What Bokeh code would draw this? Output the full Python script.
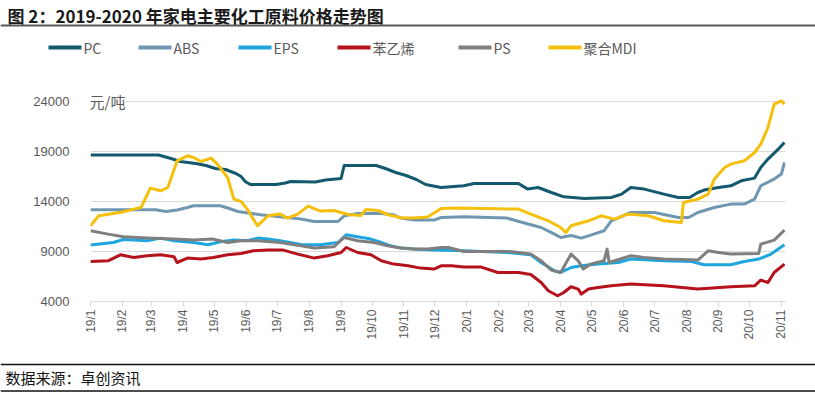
import math
import pandas as pd
from bokeh.plotting import figure
from bokeh.layouts import column
from bokeh.models import Range1d, FixedTicker, Label
from bokeh.core.properties import value
from bokeh.embed import file_html
from bokeh.resources import INLINE

TITLE = "图 2：2019-2020 年家电主要化工原料价格走势图"
SOURCE = "数据来源：卓创资讯"
UNIT = "元/吨"
SERIES_NAMES = ["PC", "ABS", "EPS", "苯乙烯", "PS", "聚合MDI"]
SERIES_COLORS = ["#135a6e", "#6f97b2", "#1ea6de", "#b5121b", "#7f7f7f", "#f5c00c"]
Y_TICKS = [4000, 9000, 14000, 19000, 24000]
START_DATE = "2019-01-01"
END_DATE = "2020-11-05"
MONTH_LABELS = ["19/1", "19/2", "19/3", "19/4", "19/5", "19/6", "19/7", "19/8", "19/9", "19/10",
                "19/11", "19/12", "20/1", "20/2", "20/3", "20/4", "20/5", "20/6", "20/7", "20/8",
                "20/9", "20/10", "20/11"]

PC_DATES = ["2019-01-01", "2019-03-08", "2019-03-20", "2019-03-29", "2019-04-13", "2019-04-23",
            "2019-05-02", "2019-05-12", "2019-05-22", "2019-05-27", "2019-05-31", "2019-06-05",
            "2019-06-30", "2019-07-09", "2019-07-14", "2019-08-07", "2019-08-17", "2019-09-01",
            "2019-09-04", "2019-10-05", "2019-10-14", "2019-10-24", "2019-11-03", "2019-11-13",
            "2019-11-22", "2019-12-07", "2019-12-29", "2020-01-08", "2020-02-20", "2020-02-29",
            "2020-03-10", "2020-03-23", "2020-04-04", "2020-04-24", "2020-05-20", "2020-05-30",
            "2020-06-08", "2020-06-21", "2020-07-10", "2020-07-24", "2020-08-04", "2020-08-12",
            "2020-08-18", "2020-09-01", "2020-09-13", "2020-09-23", "2020-10-06", "2020-10-12",
            "2020-10-19", "2020-10-29", "2020-11-04"]
PC_VALUES = [18650, 18650, 18300, 18000, 17800, 17600,
             17300, 17200, 16800, 16500, 16000, 15700,
             15700, 15850, 16000, 15950, 16150, 16300,
             17600, 17600, 17300, 16900, 16600, 16200,
             15700, 15400, 15570, 15800, 15800, 15240,
             15400, 14900, 14470, 14300, 14400, 14740,
             15400, 15240, 14740, 14400, 14400, 14900,
             15140, 15400, 15570, 16070, 16340, 17400,
             18240, 19240, 19900]

ABS_DATES = ["2019-01-01", "2019-03-05", "2019-03-15", "2019-03-26", "2019-04-05", "2019-04-11",
             "2019-05-07", "2019-05-14", "2019-05-24", "2019-06-15", "2019-07-04", "2019-07-24",
             "2019-08-06", "2019-08-29", "2019-09-04", "2019-09-17", "2019-10-10", "2019-10-22",
             "2019-10-29", "2019-11-11", "2019-11-30", "2019-12-07", "2019-12-29", "2020-02-09",
             "2020-02-24", "2020-03-13", "2020-03-26", "2020-04-01", "2020-04-11", "2020-04-21",
             "2020-05-03", "2020-05-13", "2020-05-20", "2020-06-08", "2020-07-01", "2020-07-24",
             "2020-08-03", "2020-08-12", "2020-08-28", "2020-09-13", "2020-09-26", "2020-10-06",
             "2020-10-12", "2020-10-25", "2020-11-01", "2020-11-04"]
ABS_VALUES = [13170, 13170, 13000, 13150, 13400, 13570,
              13570, 13350, 13000, 12670, 12470, 12240,
              12000, 12000, 12570, 12800, 12800, 12670,
              12340, 12140, 12140, 12400, 12470, 12340,
              11900, 11400, 10740, 10400, 10600, 10340,
              10740, 11070, 12070, 12900, 12900, 12400,
              12400, 12900, 13400, 13740, 13740, 14240,
              15570, 16240, 16740, 17900]

EPS_DATES = ["2019-01-01", "2019-01-23", "2019-02-02", "2019-02-25", "2019-03-10", "2019-03-23",
             "2019-04-11", "2019-04-25", "2019-05-07", "2019-05-20", "2019-06-02", "2019-06-12",
             "2019-06-22", "2019-07-04", "2019-07-24", "2019-08-12", "2019-08-29", "2019-09-06",
             "2019-09-17", "2019-09-30", "2019-10-10", "2019-10-19", "2019-10-29", "2019-11-11",
             "2019-11-30", "2019-12-29", "2020-02-09", "2020-03-03", "2020-03-13", "2020-03-26",
             "2020-04-01", "2020-04-11", "2020-04-21", "2020-05-07", "2020-05-27", "2020-06-08",
             "2020-07-10", "2020-08-06", "2020-08-18", "2020-09-13", "2020-09-26", "2020-10-10",
             "2020-10-22", "2020-11-04"]
EPS_VALUES = [9640, 9900, 10200, 10070, 10340, 10070,
              9900, 9670, 9970, 10140, 10070, 10340,
              10240, 10070, 9700, 9670, 9900, 10670,
              10470, 10240, 9900, 9570, 9340, 9240,
              9140, 9070, 8900, 8670, 7900, 7070,
              6900, 7400, 7570, 7740, 7900, 8240,
              8070, 8000, 7670, 7670, 8000, 8240,
              8740, 9670]

SM_DATES = ["2019-01-01", "2019-01-18", "2019-01-30", "2019-02-12", "2019-02-25", "2019-03-10",
            "2019-03-23", "2019-03-26", "2019-04-05", "2019-04-18", "2019-04-30", "2019-05-14",
            "2019-05-27", "2019-06-08", "2019-06-22", "2019-07-07", "2019-07-21", "2019-08-06",
            "2019-08-19", "2019-09-01", "2019-09-06", "2019-09-17", "2019-09-30", "2019-10-10",
            "2019-10-22", "2019-11-05", "2019-11-17", "2019-11-30", "2019-12-07", "2019-12-17",
            "2019-12-29", "2020-01-15", "2020-01-31", "2020-02-20", "2020-03-03", "2020-03-13",
            "2020-03-20", "2020-03-29", "2020-04-04", "2020-04-11", "2020-04-18", "2020-04-21",
            "2020-04-28", "2020-05-07", "2020-05-20", "2020-06-08", "2020-07-10", "2020-08-12",
            "2020-09-13", "2020-10-06", "2020-10-12", "2020-10-19", "2020-10-25", "2020-11-04"]
SM_VALUES = [8000, 8070, 8670, 8400, 8570, 8670,
             8470, 7900, 8340, 8240, 8400, 8670,
             8800, 9070, 9140, 9140, 8740, 8340,
             8570, 8900, 9400, 8900, 8670, 8070,
             7740, 7570, 7340, 7240, 7570, 7570,
             7440, 7440, 6900, 6900, 6700, 5900,
             5070, 4570, 4900, 5470, 5240, 4740,
             5240, 5400, 5570, 5740, 5570, 5240,
             5470, 5570, 6140, 5900, 6900, 7740]

PS_DATES = ["2019-01-01", "2019-01-18", "2019-02-02", "2019-02-25", "2019-03-23", "2019-04-11",
            "2019-04-30", "2019-05-14", "2019-05-27", "2019-06-12", "2019-07-04", "2019-07-24",
            "2019-08-06", "2019-08-25", "2019-09-04", "2019-09-17", "2019-10-03", "2019-10-16",
            "2019-10-29", "2019-11-11", "2019-11-24", "2019-12-07", "2019-12-14", "2019-12-29",
            "2020-02-12", "2020-03-03", "2020-03-13", "2020-03-23", "2020-04-01", "2020-04-11",
            "2020-04-18", "2020-04-23", "2020-04-30", "2020-05-13", "2020-05-16", "2020-05-18",
            "2020-06-08", "2020-06-21", "2020-07-10", "2020-08-12", "2020-08-22", "2020-09-01",
            "2020-09-13", "2020-10-10", "2020-10-12", "2020-10-25", "2020-11-04"]
PS_VALUES = [11070, 10740, 10470, 10340, 10240, 10140,
             10240, 9900, 10070, 10070, 9900, 9570,
             9340, 9470, 10400, 10070, 9900, 9570,
             9340, 9240, 9240, 9400, 9400, 9000,
             9000, 8740, 8070, 7140, 6900, 8740,
             8070, 7240, 7740, 8070, 9240, 7900,
             8570, 8400, 8240, 8140, 9070, 8900,
             8740, 8800, 9740, 10140, 11140]

MDI_DATES = ["2019-01-01", "2019-01-09", "2019-01-20", "2019-02-02", "2019-02-12", "2019-02-19",
             "2019-02-28", "2019-03-10", "2019-03-17", "2019-03-26", "2019-04-05", "2019-04-11",
             "2019-04-18", "2019-04-28", "2019-05-04", "2019-05-14", "2019-05-20", "2019-05-27",
             "2019-06-02", "2019-06-12", "2019-06-22", "2019-07-04", "2019-07-11", "2019-07-21",
             "2019-07-31", "2019-08-12", "2019-08-25", "2019-09-08", "2019-09-20", "2019-09-25",
             "2019-10-07", "2019-10-16", "2019-10-29", "2019-11-11", "2019-11-24", "2019-12-07",
             "2019-12-23", "2020-02-20", "2020-03-03", "2020-03-20", "2020-04-01", "2020-04-06",
             "2020-04-11", "2020-04-28", "2020-05-10", "2020-05-23", "2020-06-05", "2020-06-25",
             "2020-07-10", "2020-07-27", "2020-07-29", "2020-08-12", "2020-08-22", "2020-08-28",
             "2020-09-07", "2020-09-13", "2020-09-26", "2020-10-06", "2020-10-12", "2020-10-19",
             "2020-10-25", "2020-11-01", "2020-11-04"]
MDI_VALUES = [11570, 12570, 12740, 12970, 13240, 13400,
              15340, 15070, 15400, 18070, 18570, 18400,
              18000, 18340, 17740, 16400, 14240, 14000,
              13240, 11570, 12570, 12740, 12340, 12740,
              13540, 13040, 13100, 12700, 12600, 13200,
              13100, 12700, 12370, 12340, 12440, 13300,
              13340, 13240, 12740, 12070, 11400, 10900,
              11570, 12070, 12570, 12240, 12740, 12570,
              12070, 11900, 13900, 14240, 14740, 16240,
              17400, 17740, 18070, 18900, 19740, 21400,
              23740, 24070, 23740]

ALL_DATES = [PC_DATES, ABS_DATES, EPS_DATES, SM_DATES, PS_DATES, MDI_DATES]
ALL_VALUES = [PC_VALUES, ABS_VALUES, EPS_VALUES, SM_VALUES, PS_VALUES, MDI_VALUES]

# ---------------- layout constants (pixels) ----------------
W = 815
HEAD_H, MAIN_H, FOOT_H = 66, 289, 44
LEGEND_X = [48, 138, 238, 337, 458, 548]
LEGEND_SWATCH = 33
LEGEND_Y = 47
Y_TOP = 25000
CJK = value("Noto Sans CJK SC")
GRAY_TXT = "#595959"

t0 = pd.Timestamp(START_DATE)


def to_days(dates):
    return [(pd.Timestamp(d) - t0).days for d in dates]


def no_align(fig):
    if "frame_align" in fig.properties():
        fig.frame_align = False


# ---------------- header ----------------
head = figure(width=W, height=HEAD_H, x_range=Range1d(0, W), y_range=Range1d(HEAD_H, 0),
              x_axis_type=None, y_axis_type=None, toolbar_location=None,
              output_backend="svg", min_border=0, outline_line_color=None)
head.grid.visible = False
no_align(head)
head.text(x=[7], y=[15], text=[TITLE], text_font=CJK, text_font_size="17px",
          text_font_style="bold", text_baseline="middle", text_color="#1a1a1a")
head.segment(x0=[0], y0=[25], x1=[W], y1=[25], line_color="#595959", line_width=2)
head.segment(x0=LEGEND_X, y0=[LEGEND_Y] * 6,
             x1=[x + LEGEND_SWATCH for x in LEGEND_X], y1=[LEGEND_Y] * 6,
             line_color=SERIES_COLORS, line_width=4)
head.text(x=[x + LEGEND_SWATCH + 2 for x in LEGEND_X], y=[LEGEND_Y] * 6, text=SERIES_NAMES,
          text_font=CJK, text_font_size="14px", text_baseline="middle", text_color=GRAY_TXT)

# ---------------- main plot ----------------
x_end = (pd.Timestamp(END_DATE) - t0).days
p = figure(width=W, height=MAIN_H, x_range=Range1d(0, x_end), y_range=Range1d(4000, Y_TOP),
           toolbar_location=None, output_backend="svg",
           min_border_left=90, min_border_right=30, min_border_top=25, min_border_bottom=54)
p.outline_line_color = None
no_align(p)
p.xgrid.visible = False
p.ygrid.grid_line_color = "#d9d9d9"
p.ygrid.grid_line_width = 1

p.yaxis.ticker = FixedTicker(ticks=Y_TICKS)
p.yaxis.axis_line_color = None
p.yaxis.major_tick_line_color = None
p.yaxis.minor_tick_line_color = None
p.yaxis.major_label_standoff = 15
p.yaxis.major_label_text_font = "Liberation Sans"
p.yaxis.major_label_text_font_size = "13px"
p.yaxis.major_label_text_color = GRAY_TXT

month_days = [(d - t0).days for d in pd.date_range(START_DATE, "2020-11-01", freq="MS")]
p.xaxis.ticker = FixedTicker(ticks=month_days)
p.xaxis.major_label_overrides = {int(d): lab for d, lab in zip(month_days, MONTH_LABELS)}
p.xaxis.major_label_orientation = math.pi / 2
p.xaxis.axis_line_color = "#d9d9d9"
p.xaxis.major_tick_line_color = "#d9d9d9"
p.xaxis.major_tick_out = 5
p.xaxis.major_tick_in = 0
p.xaxis.minor_tick_line_color = None
p.xaxis.major_label_standoff = 3
p.xaxis.major_label_text_font = "Liberation Sans"
p.xaxis.major_label_text_font_size = "12px"
p.xaxis.major_label_text_color = GRAY_TXT

for dates, vals, col in zip(ALL_DATES, ALL_VALUES, SERIES_COLORS):
    p.line(x=to_days(dates), y=vals, line_color=col, line_width=3, line_join="round")

p.add_layout(Label(x=0, y=Y_TICKS[-1], text=UNIT, text_baseline="middle",
                   text_font="Noto Sans CJK SC", text_font_size="15px", text_color=GRAY_TXT,
                   background_fill_color="white", x_offset=-1))

# ---------------- footer ----------------
foot = figure(width=W, height=FOOT_H, x_range=Range1d(0, W), y_range=Range1d(FOOT_H, 0),
              x_axis_type=None, y_axis_type=None, toolbar_location=None,
              output_backend="svg", min_border=0, outline_line_color=None)
foot.grid.visible = False
no_align(foot)
foot.segment(x0=[0, 0], y0=[9, 35.5], x1=[W, W], y1=[9, 35.5], line_color="#111111", line_width=1.6)
foot.text(x=[5], y=[22], text=[SOURCE], text_font=CJK, text_font_size="15px",
          text_baseline="middle", text_color="#111111")

layout = column(head, p, foot, spacing=0)
open("out.html", "w").write(file_html(layout, INLINE))
